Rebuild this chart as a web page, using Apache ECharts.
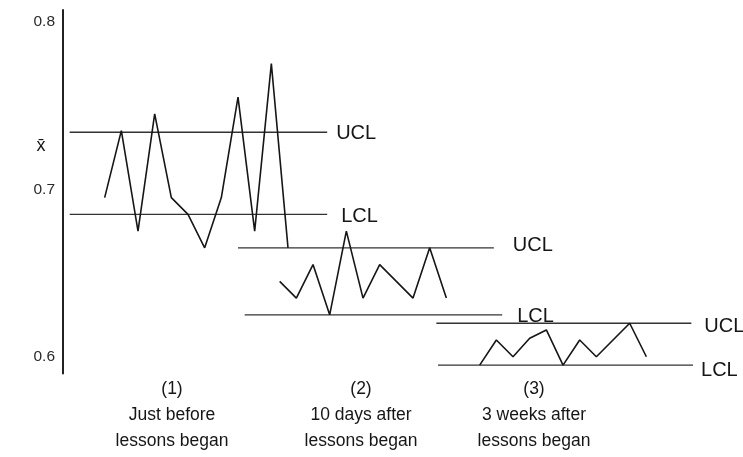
<!DOCTYPE html>
<html>
<head>
<meta charset="utf-8">
<script src="https://cdn.jsdelivr.net/npm/echarts@6/dist/echarts.min.js"></script>
<style>
  html, body { margin: 0; padding: 0; background: #fff; }
  #chart { width: 743px; height: 457px; }
</style>
</head>
<body>
<div id="chart"></div>
<script>
// Sample means (x-bar) for the three observation periods
const period1 = [0.695, 0.735, 0.675, 0.745, 0.695, 0.685, 0.665, 0.695, 0.755, 0.675, 0.775, 0.665];
const period2 = [0.645, 0.635, 0.655, 0.625, 0.675, 0.635, 0.655, 0.645, 0.635, 0.665, 0.635];
const period3 = [0.595, 0.61, 0.60, 0.611, 0.616, 0.595, 0.61, 0.60, 0.61, 0.62, 0.60];
// Sample number where each period's trace begins
const periodStart = [1, 11.5, 23.5];
// Control limits for each period
const ucl = [0.734, 0.665, 0.62];
const lcl = [0.685, 0.625, 0.595];
// Extent of each limit line along the sample axis
const uclSpan = [[-1.1, 14.35], [9.0, 24.35], [20.9, 36.2]];
const lclSpan = [[-1.1, 14.35], [9.4, 24.85], [21.0, 36.3]];
// Period captions and y tick values
const periodLabels = [
  ['(1)', 'Just before', 'lessons began'],
  ['(2)', '10 days after', 'lessons began'],
  ['(3)', '3 weeks after', 'lessons began']
];
const yTicks = [0.6, 0.7, 0.8];

const FONT = '"Liberation Sans", Arial, sans-serif';
const INK = '#161616';

// label nudges for the UCL / LCL tags, per period
const uclLabelOffset = [[4, 1], [14, -2], [8, 3]];
const lclLabelOffset = [[9, 2], [10, 2], [3, 5]];
// horizontal centres of the period captions (px)
const captionX = [172, 361, 534];

const periods = [period1, period2, period3];
const series = [];

periods.forEach((vals, p) => {
  series.push({
    type: 'line',
    data: vals.map((v, i) => [periodStart[p] + i, v]),
    symbol: 'none',
    lineStyle: { color: INK, width: 1.6 },
    silent: true,
    z: 3
  });
});

function limitSeries(span, value, text, offset) {
  return {
    type: 'line',
    data: [[span[0], value], [span[1], value]],
    symbol: 'none',
    lineStyle: { color: '#333', width: 1.4 },
    silent: true,
    z: 2,
    endLabel: {
      show: true,
      formatter: text,
      distance: 5,
      offset: offset,
      fontFamily: FONT,
      fontSize: 20,
      color: INK
    }
  };
}

ucl.forEach((v, p) => series.push(limitSeries(uclSpan[p], v, 'UCL', uclLabelOffset[p])));
lcl.forEach((v, p) => series.push(limitSeries(lclSpan[p], v, 'LCL', lclLabelOffset[p])));

const chart = echarts.init(document.getElementById('chart'));

const graphic = [
  {
    type: 'text',
    x: 41, y: 146,
    style: {
      text: 'x\u0304',
      font: '18px ' + FONT,
      fill: INK,
      textAlign: 'center',
      textVerticalAlign: 'middle'
    }
  }
];
periodLabels.forEach((lines, p) => {
  graphic.push({
    type: 'text',
    x: captionX[p], y: 376,
    style: {
      text: lines.join('\n'),
      font: '17.5px ' + FONT,
      lineHeight: 26,
      fill: INK,
      textAlign: 'center',
      textVerticalAlign: 'top'
    }
  });
});

chart.setOption({
  animation: false,
  backgroundColor: '#fff',
  grid: { left: 63, top: 10, width: 666.7, height: 363.5, containLabel: false, outerBoundsMode: 'none' },
  xAxis: {
    type: 'value',
    min: -1.5,
    max: 38.5,
    show: false
  },
  yAxis: {
    type: 'value',
    min: 0.59,
    max: 0.807,
    axisLine: { show: true, onZero: false, lineStyle: { color: '#222', width: 2 } },
    axisTick: { show: false },
    splitLine: { show: false },
    axisLabel: {
      customValues: yTicks,
      formatter: v => v.toFixed(1),
      fontFamily: FONT,
      fontSize: 15.5,
      color: '#2a2a2a',
      margin: 8,
      padding: [4, 0, 0, 0]
    }
  },
  graphic: graphic,
  series: series
});
</script>
</body>
</html>
